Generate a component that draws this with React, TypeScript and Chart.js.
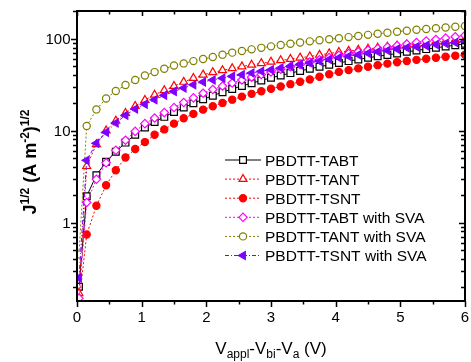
import React, { useEffect, useRef } from 'react';
import { Chart, registerables } from 'chart.js';
import { drawPoint } from 'chart.js/helpers';

Chart.register(...registerables);

// ---- data ----
const voltages = [0.03, 0.15, 0.30, 0.45, 0.60, 0.75, 0.90, 1.05, 1.20, 1.35, 1.50, 1.65, 1.80, 1.95, 2.10, 2.25, 2.40, 2.55, 2.70, 2.85, 3.00, 3.15, 3.30, 3.45, 3.60, 3.75, 3.90, 4.05, 4.20, 4.35, 4.50, 4.65, 4.80, 4.95, 5.10, 5.25, 5.40, 5.55, 5.70, 5.85, 6.00];

const tabt = [0.2, 1.93, 3.27, 4.57, 5.9, 7.4, 9.0, 10.8, 12.4, 14.1, 15.9, 17.8, 19.8, 21.9, 24.0, 26.2, 28.4, 30.6, 32.8, 35.1, 37.5, 39.8, 42.2, 44.6, 47.0, 49.5, 52.0, 54.5, 57.0, 59.5, 62.0, 64.3, 66.6, 69.0, 72.0, 74.5, 77.0, 79.5, 82.3, 85.0, 88.0];
const tant = [0.17, 4.1, 7.1, 10.0, 12.8, 15.5, 18.5, 21.5, 24.5, 27.4, 30.5, 33.8, 37.2, 40.5, 43.0, 45.3, 47.6, 49.8, 52.0, 54.0, 56.0, 58.0, 60.0, 62.0, 64.0, 66.5, 69.0, 71.5, 73.5, 75.5, 77.5, 79.5, 81.5, 83.5, 85.5, 87.5, 89.5, 91.5, 94.0, 96.5, 99.0];
const tsnt = [0.13, 0.74, 1.52, 2.54, 3.7, 5.1, 6.3, 7.5, 9.0, 10.3, 11.9, 13.6, 15.2, 16.9, 18.4, 20.0, 21.7, 23.4, 25.1, 26.8, 28.5, 30.2, 32.0, 34.0, 36.0, 38.5, 41.0, 43.5, 45.5, 47.5, 49.5, 51.5, 53.5, 55.5, 57.2, 58.8, 60.4, 62.0, 63.6, 65.3, 67.0];
const tabtSva = [0.15, 1.65, 2.95, 4.46, 6.1, 7.85, 9.8, 11.9, 13.7, 15.7, 17.8, 20.2, 22.7, 25.5, 28.0, 30.5, 33.0, 35.5, 38.2, 40.8, 43.5, 46.5, 49.5, 52.5, 55.8, 59.0, 62.5, 66.0, 69.0, 72.0, 75.0, 78.0, 81.0, 84.0, 87.5, 91.0, 94.5, 98.0, 101.5, 105.0, 108.5];
const tantSva = [0.45, 11.2, 17.0, 22.3, 27.0, 31.3, 35.5, 39.7, 43.3, 47.0, 51.0, 53.8, 57.0, 60.0, 63.2, 67.0, 70.5, 73.5, 76.5, 79.5, 82.5, 85.4, 88.2, 91.0, 93.5, 96.0, 98.5, 101.0, 104.0, 107.0, 110.0, 113.0, 116.0, 119.0, 122.0, 125.0, 127.5, 130.0, 132.5, 135.0, 137.5];
const tsntSva = [0.25, 4.75, 7.3, 9.6, 12.1, 14.7, 17.2, 19.3, 21.7, 24.2, 26.7, 29.1, 31.6, 33.8, 35.5, 37.2, 38.9, 40.6, 42.4, 44.2, 46.0, 48.0, 50.0, 52.2, 54.5, 57.0, 59.5, 62.0, 64.5, 67.0, 69.5, 72.0, 74.5, 77.0, 79.5, 81.8, 84.0, 86.3, 88.5, 90.8, 93.0];

const seriesNames = ['PBDTT-TABT', 'PBDTT-TANT', 'PBDTT-TSNT', 'PBDTT-TABT with SVA', 'PBDTT-TANT with SVA', 'PBDTT-TSNT with SVA'];
const seriesValues = [tabt, tant, tsnt, tabtSva, tantSva, tsntSva];

const xTickValues = [0, 1, 2, 3, 4, 5, 6];
const xTickLabels = ['0', '1', '2', '3', '4', '5', '6'];
const yTickValues = [1, 10, 100];
const yTickLabels = ['1', '10', '100'];

const X_MIN = 0;
const X_MAX = 6;
const Y_MIN = 0.14;
const Y_MAX = 200;

// ---- styles ----
const FONT = '"Liberation Sans", Arial, Helvetica, sans-serif';

const styles = [
  { color: '#000000', fill: '#ffffff', pointStyle: 'rect', radius: 4.8, rotation: 0, dash: [], order: 5 },
  { color: '#ff0000', fill: '#ffffff', pointStyle: 'triangle', radius: 4.6, rotation: 0, dash: [2, 2], order: 4 },
  { color: '#ff0000', fill: '#ff0000', pointStyle: 'circle', radius: 3.6, rotation: 0, dash: [2, 2], order: 3 },
  { color: '#ff00ff', fill: '#ffffff', pointStyle: 'rectRot', radius: 4.2, rotation: 0, dash: [2, 2], order: 1 },
  { color: '#808000', fill: '#ffffff', pointStyle: 'circle', radius: 3.6, rotation: 0, dash: [2, 2], order: 2 },
  { color: '#7f00ff', fill: '#7f00ff', pointStyle: 'triangle', radius: 4.6, rotation: -90, dash: [4, 2, 1, 2], order: 0 },
];

type Part = { t: string; size: number; dy: number; bold?: boolean };

function drawRich(ctx: CanvasRenderingContext2D, parts: Part[], cx: number, baseY: number) {
  let total = 0;
  for (const p of parts) {
    ctx.font = `${p.bold ? 'bold ' : ''}${p.size}px ${FONT}`;
    total += ctx.measureText(p.t).width;
  }
  let x = cx - total / 2;
  ctx.textAlign = 'left';
  ctx.textBaseline = 'alphabetic';
  for (const p of parts) {
    ctx.font = `${p.bold ? 'bold ' : ''}${p.size}px ${FONT}`;
    ctx.fillText(p.t, x, baseY + p.dy);
    x += ctx.measureText(p.t).width;
  }
}

const decorPlugin = {
  id: 'decor',
  afterDraw(chart: any) {
    const { ctx, chartArea: a, scales } = chart;
    const xs = scales.x;
    const ys = scales.y;
    ctx.save();
    ctx.strokeStyle = '#000';
    ctx.fillStyle = '#000';

    // ticks
    ctx.lineWidth = 1.5;
    ctx.beginPath();
    for (let i = 0; i <= 12; i++) {
      const v = X_MIN + i * 0.5;
      const px = Math.round(xs.getPixelForValue(v)) + 0.5;
      const major = i % 2 === 0;
      const L = major ? 6 : 3.5;
      ctx.moveTo(px, a.bottom);
      ctx.lineTo(px, a.bottom + L);
      ctx.moveTo(px, a.top);
      ctx.lineTo(px, a.top + (major ? 5 : 3.5));
    }
    for (const d of [0.1, 1, 10, 100]) {
      for (let k = 1; k <= 9; k++) {
        const v = d * k;
        if (v < Y_MIN || v > Y_MAX) continue;
        const py = Math.round(ys.getPixelForValue(v)) + 0.5;
        const major = k === 1;
        const L = major ? 6 : 4;
        ctx.moveTo(a.left, py);
        ctx.lineTo(a.left - L, py);
        ctx.moveTo(a.right, py);
        ctx.lineTo(a.right - L, py);
      }
    }
    ctx.stroke();

    // frame
    ctx.lineWidth = 2;
    ctx.strokeRect(a.left, a.top, a.right - a.left, a.bottom - a.top);

    // tick labels
    ctx.font = `15px ${FONT}`;
    ctx.textBaseline = 'alphabetic';
    ctx.textAlign = 'center';
    xTickValues.forEach((v, i) => {
      ctx.fillText(xTickLabels[i], xs.getPixelForValue(v), a.bottom + 21);
    });
    ctx.textAlign = 'right';
    yTickValues.forEach((v, i) => {
      ctx.fillText(yTickLabels[i], a.left - 6.5, ys.getPixelForValue(v) + 5.5);
    });

    // x title
    drawRich(
      ctx,
      [
        { t: 'V', size: 17, dy: 0 },
        { t: 'appl', size: 12, dy: 4 },
        { t: '-V', size: 17, dy: 0 },
        { t: 'bi', size: 12, dy: 4 },
        { t: '-V', size: 17, dy: 0 },
        { t: 'a', size: 12, dy: 4 },
        { t: ' (V)', size: 17, dy: 0 },
      ],
      (a.left + a.right) / 2,
      354
    );

    // y title
    ctx.save();
    ctx.translate(36, 162);
    ctx.rotate(-Math.PI / 2);
    drawRich(
      ctx,
      [
        { t: 'J', size: 18, dy: 0, bold: true },
        { t: '1/2', size: 12, dy: -7, bold: true },
        { t: ' (A m', size: 18, dy: 0, bold: true },
        { t: '-2', size: 12, dy: -7, bold: true },
        { t: ')', size: 18, dy: 0, bold: true },
        { t: '1/2', size: 12, dy: -7, bold: true },
      ],
      0,
      0
    );
    ctx.restore();

    // legend
    const lx0 = 225;
    const lx1 = 261;
    const mx = 243;
    seriesNames.forEach((name, i) => {
      const s = styles[i];
      const y = 160 + i * 19.1;
      ctx.save();
      ctx.strokeStyle = s.color;
      ctx.lineWidth = 1;
      ctx.setLineDash(s.dash);
      ctx.beginPath();
      ctx.moveTo(lx0, y);
      ctx.lineTo(lx1, y);
      ctx.stroke();
      ctx.setLineDash([]);
      ctx.fillStyle = s.fill;
      ctx.strokeStyle = s.color;
      ctx.lineWidth = 1.2;
      drawPoint(ctx, { pointStyle: s.pointStyle, rotation: s.rotation, radius: s.radius, borderWidth: 1.2 } as any, mx, y);
      ctx.restore();
      ctx.fillStyle = '#000';
      ctx.font = `15.5px ${FONT}`;
      ctx.textAlign = 'left';
      ctx.textBaseline = 'alphabetic';
      ctx.fillText(name, 265, y + 5.5);
    });

    ctx.restore();
  },
};

export default function App() {
  const canvasRef = useRef<HTMLCanvasElement | null>(null);

  useEffect(() => {
    const canvas = canvasRef.current;
    if (!canvas) return;
    const datasets = seriesNames.map((name, i) => {
      const s = styles[i];
      return {
        label: name,
        data: voltages.map((v, j) => ({ x: v, y: seriesValues[i][j] })),
        borderColor: s.color,
        backgroundColor: s.fill,
        borderWidth: 1,
        borderDash: s.dash,
        pointStyle: s.pointStyle,
        pointRotation: s.rotation,
        pointRadius: s.radius,
        pointBorderWidth: 1.2,
        pointBorderColor: s.color,
        pointBackgroundColor: s.fill,
        tension: 0,
        fill: false,
        order: s.order,
      };
    });
    const chart = new Chart(canvas, {
      type: 'line',
      data: { datasets } as any,
      options: {
        responsive: false,
        animation: false,
        devicePixelRatio: 1,
        layout: { padding: { left: 77, top: 11, right: 4, bottom: 61 } },
        plugins: { legend: { display: false }, tooltip: { enabled: false } },
        scales: {
          x: { type: 'linear', min: X_MIN, max: X_MAX, display: false },
          y: { type: 'logarithmic', min: Y_MIN, max: Y_MAX, display: false },
        },
      } as any,
      plugins: [decorPlugin],
    });
    return () => chart.destroy();
  }, []);

  return (
    <div style={{ position: 'absolute', left: 0, top: 0, width: 471, height: 362, background: '#fff' }}>
      <canvas ref={canvasRef} width={471} height={362} style={{ width: 471, height: 362, display: 'block' }} />
    </div>
  );
}
